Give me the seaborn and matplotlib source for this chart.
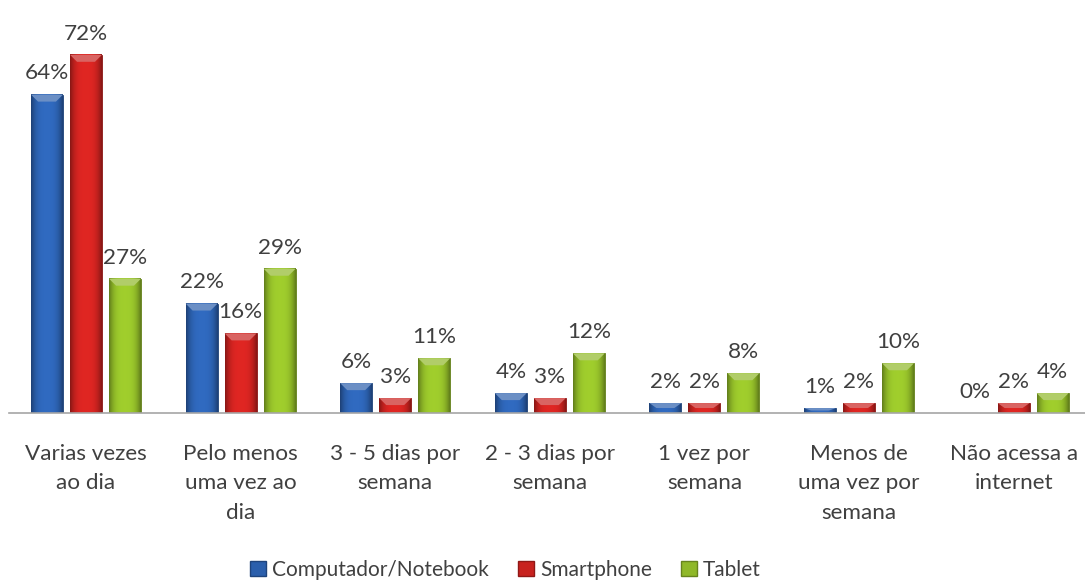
import numpy as np
import pandas as pd
import matplotlib
matplotlib.use("Agg")
import matplotlib.pyplot as plt
import seaborn as sns
from matplotlib.patches import Patch, Polygon
from matplotlib.colors import to_rgb

categories = [
    "Varias vezes\nao dia",
    "Pelo menos\numa vez ao\ndia",
    "3 - 5 dias por\nsemana",
    "2 - 3 dias por\nsemana",
    "1 vez por\nsemana",
    "Menos de\numa vez por\nsemana",
    "Não acessa a\ninternet",
]
series_names = ["Computador/Notebook", "Smartphone", "Tablet"]
computador = [64, 22, 6, 4, 2, 1, 0]
smartphone = [72, 16, 3, 3, 2, 2, 2]
tablet = [27, 29, 11, 12, 8, 10, 4]

colors = ["#2B5FAC", "#C8221F", "#8FB828"]

df = pd.DataFrame({"categoria": categories * 3,
                   "serie": np.repeat(series_names, len(categories)),
                   "valor": computador + smartphone + tablet})

sns.set_style("white")
plt.rcParams["font.family"] = ["Lato", "DejaVu Sans"]
text_color = "#404040"
fsize = 16.2

fig = plt.figure(figsize=(10.85, 5.84), dpi=100)
ax = fig.add_axes([8.7 / 1085, 171 / 584, 7 * 154.6 / 1085, (413 - 15) / 584])

sns.barplot(data=df, x="categoria", y="valor", hue="serie", palette=colors,
            width=0.757, gap=0.18, ax=ax, legend=False, saturation=1)

ax.set_ylim(0, 80)
ax.set_xlim(-0.5, 6.5)

# pseudo 3d shading on every bar
px_per_unit = (413 - 15) / 80.0
for container, base in zip(ax.containers, colors):
    rgb = np.array(to_rgb(base))
    light = np.clip(rgb * 1.12, 0, 1)
    dark = rgb * 0.68
    t = np.linspace(0, 1, 60)
    prof = np.abs(2 * t - 1) ** 3
    grad = (1 - prof)[:, None] * light + prof[:, None] * dark
    grad = grad[None, :, :]
    for bar in container:
        x0, y0 = bar.get_x(), bar.get_y()
        w, h = bar.get_width(), bar.get_height()
        bar.set_edgecolor(dark)
        bar.set_linewidth(0.6)
        if h <= 0:
            continue
        ax.imshow(grad, extent=[x0, x0 + w, y0, y0 + h], aspect="auto",
                  zorder=bar.get_zorder() + 0.1, interpolation="bilinear")
        dh = min(7 / px_per_unit, h * 0.5)
        d = w * 0.22
        bevel = Polygon([[x0, y0 + h], [x0 + w, y0 + h], [x0 + w - d, y0 + h - dh],
                         [x0 + d, y0 + h - dh]], closed=True,
                        facecolor=rgb + (1 - rgb) * 0.3, edgecolor="none",
                        zorder=bar.get_zorder() + 0.2)
        ax.add_patch(bevel)
    ax.bar_label(container, fmt="{:.0f}%", padding=8, fontsize=fsize,
                 color=text_color, zorder=5)

ax.set_xlim(-0.5, 6.5)
ax.set_ylim(0, 80)
ax.set_xlabel("")
ax.set_ylabel("")
ax.set_yticks([])
for s in ["left", "right", "top"]:
    ax.spines[s].set_visible(False)
ax.spines["bottom"].set_color("#A6A6A6")
ax.spines["bottom"].set_linewidth(1.2)
ax.tick_params(axis="x", length=0, pad=22, labelsize=fsize, labelcolor=text_color)
for lbl in ax.get_xticklabels():
    lbl.set_linespacing(1.62)

handles = [Patch(facecolor=c, edgecolor=to_rgb(c) * np.array(0.72)) for c in colors]
fig.legend(handles, series_names, loc="center", bbox_to_anchor=(0.466, 0.024),
           ncol=3, frameon=False, fontsize=15, handlelength=0.75, handleheight=0.75,
           handletextpad=0.3, columnspacing=1.4, labelcolor=text_color)

fig.savefig("out.png", dpi=100)
